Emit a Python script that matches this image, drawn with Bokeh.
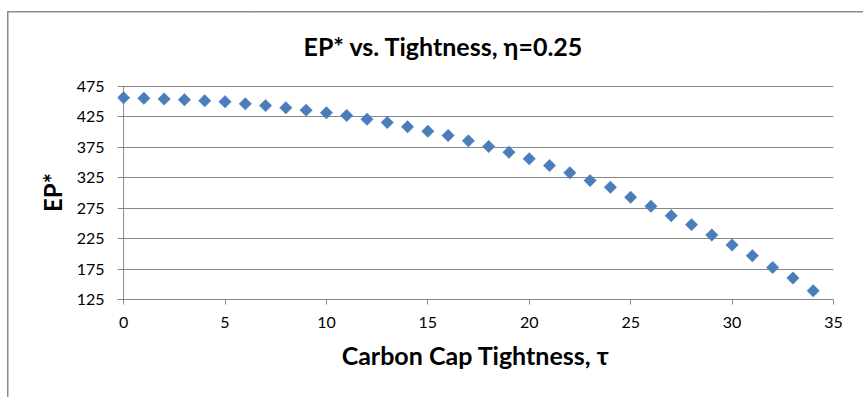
import math

from bokeh.embed import file_html
from bokeh.models import ColumnDataSource, FixedTicker, Span
from bokeh.plotting import figure
from bokeh.resources import INLINE

# Equilibrium profit EP* against carbon cap tightness tau (eta = 0.25)
tau = list(range(35))
ep_star = [456.0, 455.0, 454.0, 452.6, 451.0, 449.4, 446.0, 443.0, 439.5, 435.6,
           431.3, 426.9, 420.8, 415.4, 408.3, 401.0, 394.0, 385.2, 376.0, 366.6,
           355.7, 344.7, 332.8, 320.0, 309.0, 292.6, 277.8, 262.5, 247.8, 230.8,
           214.4, 196.8, 177.6, 160.2, 139.3]

x_ticks = [0, 5, 10, 15, 20, 25, 30, 35]
y_ticks = [125, 175, 225, 275, 325, 375, 425, 475]

title_text = "EP* vs. Tightness, η=0.25"
x_title = "Carbon Cap Tightness, τ"
y_title = "EP*"

FONT = "Lato"
GRID = "#878787"
EDGE = "#8c8c8c"
BLUE = "#4a7ebb"

source = ColumnDataSource(data=dict(tau=tau, ep=ep_star))

# a small pad left of zero keeps the first marker unclipped; the grid stubs
# left of the zero line then read as the value-axis tick marks
p = figure(
    width=863, height=397,
    output_backend="svg", toolbar_location=None,
    x_range=(-0.3, x_ticks[-1]), y_range=(y_ticks[0], y_ticks[-1] + 1),
    min_border_left=117, min_border_right=30,
    min_border_top=85, min_border_bottom=98,
    background_fill_color="white", border_fill_color=None,
)
p.outline_line_color = None

# chart-area edge along the top and left, painted behind the canvas
p.styles = {
    "background": (
        f"linear-gradient({EDGE}, {EDGE}) 7px 11px / 100% 1.5px no-repeat, "
        f"linear-gradient({EDGE}, {EDGE}) 7px 11px / 1.5px 100% no-repeat, "
        "white"
    ),
}

# value-axis line at tau = 0, under the markers
p.add_layout(Span(location=0, dimension="height", line_color=GRID,
                  line_width=1, level="underlay"))

# diamond markers: squares turned by 45 degrees
p.scatter("tau", "ep", source=source, marker="square", size=8.8,
          angle=math.pi / 4, fill_color=BLUE, line_color=BLUE, line_width=0.5)

# title
p.title.text = title_text
p.title.text_font = FONT
p.title.text_font_size = "25px"
p.title.text_font_style = "bold"
p.title.text_color = "black"
p.title.align = "left"
p.title.offset = 186
p.title.standoff = 50

# grid
p.xgrid.visible = False
p.ygrid.ticker = FixedTicker(ticks=y_ticks)
p.ygrid.grid_line_color = GRID
p.ygrid.grid_line_width = 1

for ax in (p.xaxis[0], p.yaxis[0]):
    ax.axis_line_color = GRID
    ax.axis_line_width = 1
    ax.major_tick_line_color = GRID
    ax.major_tick_in = 0
    ax.minor_tick_line_color = None
    ax.major_label_text_font = FONT
    ax.major_label_text_font_size = "16px"
    ax.major_label_text_color = "black"
    ax.axis_label_text_font = FONT
    ax.axis_label_text_font_style = "bold"
    ax.axis_label_text_color = "black"

p.xaxis.ticker = FixedTicker(ticks=x_ticks)
p.xaxis.major_tick_out = 5
p.xaxis.major_label_standoff = 12

p.yaxis.ticker = FixedTicker(ticks=y_ticks)
p.yaxis.axis_line_color = None
p.yaxis.major_tick_out = 0
p.yaxis.major_label_standoff = 13

p.xaxis.axis_label = x_title
p.xaxis.axis_label_text_font_size = "25px"
p.xaxis.axis_label_standoff = 9

p.yaxis.axis_label = y_title
p.yaxis.axis_label_text_font_size = "24px"
p.yaxis.axis_label_standoff = 7

open("out.html", "w").write(file_html(p, INLINE))
